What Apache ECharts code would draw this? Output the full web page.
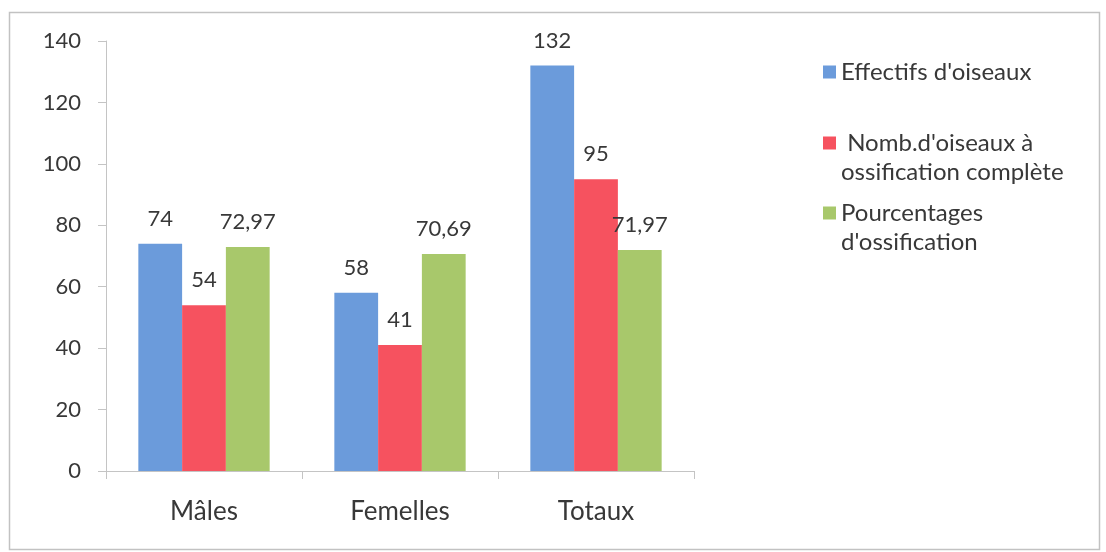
<!DOCTYPE html>
<html>
<head>
<meta charset="utf-8">
<script src="https://cdn.jsdelivr.net/npm/echarts@6/dist/echarts.min.js"></script>
<style>
  html, body { margin: 0; padding: 0; background: #fff; }
  #chart { width: 1106px; height: 552px; }
</style>
</head>
<body>
<div id="chart"></div>
<script>
// Groups on the x axis
const categories = ['Mâles', 'Femelles', 'Totaux'];

// Series values per group
const effectifs = [74, 58, 132];
const ossificationComplete = [54, 41, 95];
const pourcentages = [72.97, 70.69, 71.97];

// Series names and the lines of their legend entries
const seriesNames = [
  "Effectifs d'oiseaux",
  "Nomb.d'oiseaux à ossification complète",
  "Pourcentages d'ossification"
];
const legendLines = [
  ["Effectifs d'oiseaux"],
  [" Nomb.d'oiseaux à", "ossification complète"],
  ["Pourcentages", "d'ossification"]
];

// Value axis ticks
const yMin = 0, yMax = 140, yStep = 20;

const FONT = 'Lato';
const TEXT = '#383838';
const AXIS = '#c4c4c4';
const colors = ['#6b9bdb', '#f6525f', '#a8c86b'];
const LEGEND_LINE = 29;

const chart = echarts.init(document.getElementById('chart'));

const fmt = v => String(v).replace('.', ',');

const makeSeries = (name, data, color) => ({
  name: name,
  type: 'bar',
  data: data,
  barGap: '0%',
  barCategoryGap: '33%',
  itemStyle: { color: color },
  label: {
    show: true,
    position: 'top',
    distance: 14,
    fontFamily: FONT,
    fontSize: 22,
    color: TEXT,
    formatter: p => fmt(p.value)
  }
});

// One legend block per series; for two-line entries an empty leading line
// keeps the marker level with the first line of text.
const makeLegend = (idx, markerCenterY) => {
  const lines = legendLines[idx];
  const text = lines.length > 1 ? '\n' + lines.join('\n') : lines[0];
  const blockLines = lines.length > 1 ? lines.length + 1 : 1;
  return {
    data: [seriesNames[idx]],
    left: 823,
    top: markerCenterY - (blockLines * LEGEND_LINE) / 2,
    padding: 0,
    itemWidth: 13,
    itemHeight: 13,
    icon: 'rect',
    selectedMode: false,
    formatter: () => text,
    textStyle: {
      fontFamily: FONT,
      fontSize: 24,
      color: TEXT,
      lineHeight: LEGEND_LINE
    }
  };
};

chart.setOption({
  animation: false,
  backgroundColor: '#fff',
  graphic: [{
    type: 'rect',
    shape: { x: 9.5, y: 12.5, width: 1090, height: 537 },
    style: { fill: 'none', stroke: '#c2c2c2', lineWidth: 1.5 },
    silent: true
  }],
  grid: { left: 106, right: 412, top: 41, bottom: 81 },
  legend: [
    makeLegend(0, 72),
    makeLegend(1, 143),
    makeLegend(2, 213)
  ],
  xAxis: {
    type: 'category',
    data: categories,
    axisLine: { show: true, lineStyle: { color: AXIS, width: 1 } },
    axisTick: { show: true, length: 8, lineStyle: { color: AXIS } },
    axisLabel: { fontFamily: FONT, fontSize: 26, color: TEXT, margin: 28 }
  },
  yAxis: {
    type: 'value',
    min: yMin,
    max: yMax,
    interval: yStep,
    splitLine: { show: false },
    axisLine: { show: true, lineStyle: { color: AXIS, width: 1 } },
    axisTick: { show: true, length: 8, lineStyle: { color: AXIS } },
    axisLabel: { fontFamily: FONT, fontSize: 22, color: TEXT, margin: 25 }
  },
  series: [
    makeSeries(seriesNames[0], effectifs, colors[0]),
    makeSeries(seriesNames[1], ossificationComplete, colors[1]),
    makeSeries(seriesNames[2], pourcentages, colors[2])
  ]
});
</script>
</body>
</html>
